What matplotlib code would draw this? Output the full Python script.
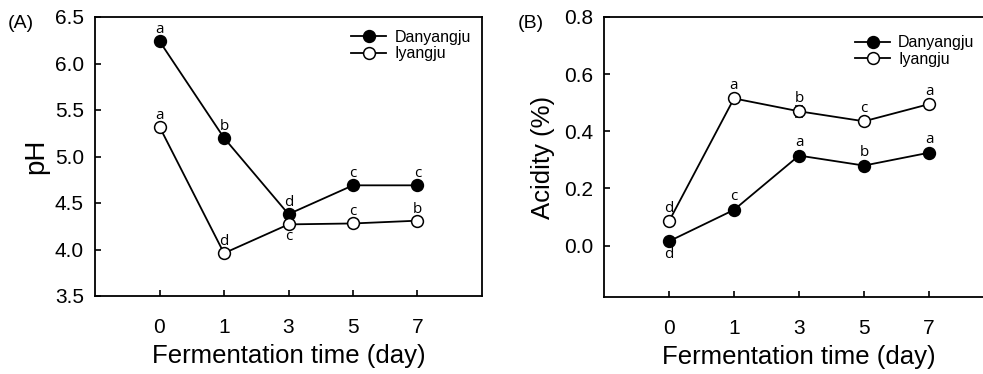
import matplotlib
matplotlib.use('Agg')
import matplotlib.pyplot as plt
import numpy as np

# Fermentation days (categorical positions on the x axis)
days = ['0', '1', '3', '5', '7']

# (A) pH
ph_danyangju = [6.24, 5.20, 4.38, 4.69, 4.69]
ph_iyangju = [5.32, 3.96, 4.27, 4.28, 4.31]
ph_dan_letters = ['a', 'b', 'd', 'c', 'c']
ph_iyang_letters = ['a', 'd', 'c', 'c', 'b']
ph_iyang_below = [False, False, True, False, False]

# (B) Acidity
ac_danyangju = [0.015, 0.125, 0.315, 0.280, 0.325]
ac_dan_err = [0.008, 0.010, 0.012, 0.008, 0.008]
ac_iyangju = [0.085, 0.515, 0.470, 0.435, 0.495]
ac_iyang_err = [0.008, 0.008, 0.020, 0.010, 0.008]
ac_dan_letters = ['d', 'c', 'a', 'b', 'a']
ac_dan_below = [True, False, False, False, False]
ac_iyang_letters = ['d', 'a', 'b', 'c', 'a']

plt.rcParams['font.family'] = ['Liberation Sans', 'DejaVu Sans']
letter_font = 'Open Sans'

W, H = 983, 374
fig = plt.figure(figsize=(W / 100, H / 100), dpi=100)

x = np.arange(len(days))


def px_axes(left, top, right, bottom):
    return fig.add_axes([left / W, 1 - bottom / H, (right - left) / W, (bottom - top) / H])


def style_axes(ax):
    for s in ax.spines.values():
        s.set_linewidth(1.3)
    ax.tick_params(direction='in', length=4, width=1.2, labelsize=15, pad=8)
    ax.tick_params(axis='x', pad=16)
    ax.set_xlim(-1, 5)
    ax.set_xticks(x)
    ax.set_xticklabels(days)
    ax.set_xlabel('Fermentation time (day)', fontsize=18.5, labelpad=5)


def letters(ax, vals, labs, below, off):
    for xi, v, lab, b in zip(x, vals, labs, below):
        if b:
            ax.annotate(lab, (xi, v), xytext=(0, -off), textcoords='offset points',
                        ha='center', va='top', fontsize=11, family=letter_font)
        else:
            ax.annotate(lab, (xi, v), xytext=(0, off), textcoords='offset points',
                        ha='center', va='bottom', fontsize=11, family=letter_font)


mk = dict(marker='o', markersize=8.5, linewidth=1.3, color='black',
          markeredgecolor='black', markeredgewidth=1.1)

# Panel A
axA = px_axes(95, 17, 482, 296)
axA.plot(x, ph_danyangju, markerfacecolor='black', label='Danyangju', **mk)
axA.plot(x, ph_iyangju, markerfacecolor='white', label='Iyangju', **mk)
axA.set_ylim(3.5, 6.5)
axA.set_yticks([3.5, 4.0, 4.5, 5.0, 5.5, 6.0, 6.5])
axA.set_yticklabels(['3.5', '4.0', '4.5', '5.0', '5.5', '6.0', '6.5'])
style_axes(axA)
axA.set_ylabel('pH', fontsize=20, labelpad=4)
letters(axA, ph_danyangju, ph_dan_letters, [False] * 5, 3)
letters(axA, ph_iyangju, ph_iyang_letters, ph_iyang_below, 3)
axA.legend(loc='upper right', bbox_to_anchor=(1.0, 0.995), frameon=False, fontsize=11.5,
           handlelength=2.2, handletextpad=0.5, labelspacing=0.1, borderaxespad=0.3)
fig.text(8 / W, 1 - 23 / H, '(A)', fontsize=14, va='center', ha='left')

# Panel B
axB = px_axes(604, 17, 994, 297)
lnD = axB.errorbar(x, ac_danyangju, yerr=ac_dan_err, markerfacecolor='black',
                   capsize=3, elinewidth=1.1, capthick=1.1, **mk)
lnI = axB.errorbar(x, ac_iyangju, yerr=ac_iyang_err, markerfacecolor='white',
                   capsize=3, elinewidth=1.1, capthick=1.1, **mk)
axB.set_ylim(-0.18, 0.8)
axB.set_yticks([0.0, 0.2, 0.4, 0.6, 0.8])
axB.set_yticklabels(['0.0', '0.2', '0.4', '0.6', '0.8'])
style_axes(axB)
axB.set_ylabel('Acidity (%)', fontsize=18.5, labelpad=6)
letters(axB, ac_danyangju, ac_dan_letters, ac_dan_below, 4)
letters(axB, ac_iyangju, ac_iyang_letters, [False] * 5, 4)
axB.legend([lnD[0], lnI[0]], ['Danyangju', 'Iyangju'], loc='upper left',
           bbox_to_anchor=(0.615, 0.975), frameon=False, fontsize=11.5,
           handlelength=2.2, handletextpad=0.5, labelspacing=0.1, borderaxespad=0.3)
fig.text(518 / W, 1 - 23 / H, '(B)', fontsize=14, va='center', ha='left')

fig.savefig('out.png', dpi=100)
